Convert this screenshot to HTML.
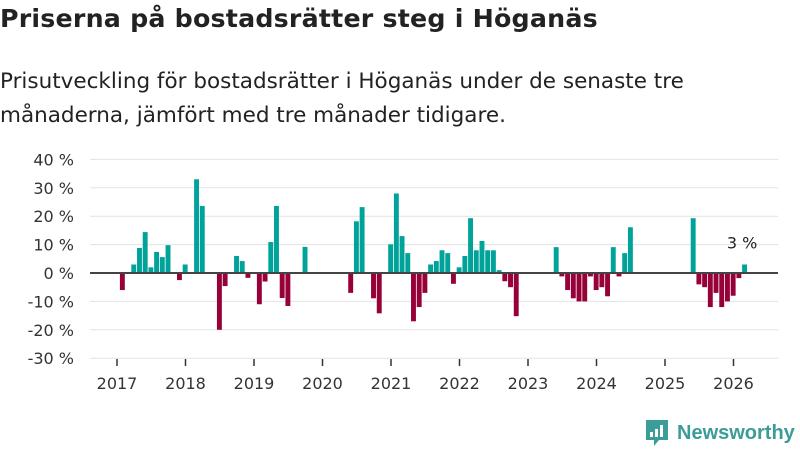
<!DOCTYPE html>
<html><head><meta charset="utf-8"><style>
body{margin:0;width:800px;height:450px;background:#fff;overflow:hidden;font-family:"Liberation Sans","DejaVu Sans",sans-serif;}
#t{position:absolute;left:0;top:4px;font-size:25.3px;font-weight:bold;color:#222;margin:0;font-family:"DejaVu Sans",sans-serif;letter-spacing:0.2px}
#s{position:absolute;left:0;top:65px;line-height:34px;color:#222;margin:0;font-family:"DejaVu Sans",sans-serif;font-size:21.5px}
svg{position:absolute;left:0;top:0}
</style></head><body>
<h1 id="t">Priserna på bostadsrätter steg i Höganäs</h1>
<p id="s">Prisutveckling för bostadsrätter i Höganäs under de senaste tre<br>månaderna, jämfört med tre månader tidigare.</p>
<svg id="c" width="800" height="450"></svg>
<script>
const months=[0,2,3,4,5,6,7,8,10,11,13,14,17,18,20,21,22,24,25,26,27,28,29,32,40,41,42,44,45,47,48,49,50,51,52,53,54,55,56,57,58,59,60,61,62,63,64,65,66,67,68,69,76,77,78,79,80,81,82,83,84,85,86,87,88,89,100,101,102,103,104,105,106,107,108,109];
const values=[-6,3,8.8,14.4,2,7.4,5.6,9.8,-2.5,3,33,23.6,-20,-4.6,6,4.2,-1.7,-11,-3,10.9,23.6,-8.8,-11.6,9.2,-7,18.2,23.2,-8.9,-14.2,10.1,28,13,7,-17,-12,-7,3,4.2,8,7,-3.8,2,6,19.3,8,11.3,8,8,1,-2.9,-5,-15.2,9.1,-1.2,-6,-8.9,-10,-10,-1.2,-6,-5,-8.2,9.1,-1.2,7,16.1,19.3,-4,-5,-12,-7,-12,-10,-8,-1.8,3];
const yTicks=[40,30,20,10,0,-10,-20,-30];
const years=[2017,2018,2019,2020,2021,2022,2023,2024,2025,2026];
const NS="http://www.w3.org/2000/svg",svg=document.getElementById('c');
const x0=117,step=68.5/12,L=90,R=778;
const y=v=>273-v*2.84;
const xm=m=>x0+m*step;
function mk(tag,a,txt){const e=document.createElementNS(NS,tag);for(const k in a)e.setAttribute(k,a[k]);if(txt!=null)e.textContent=txt;svg.appendChild(e);return e;}
yTicks.forEach(v=>{
 const g=mk('line',{x1:L,x2:R,y1:y(v),y2:y(v),stroke:'#e3e3e3','stroke-width':1});
 
 
 const t=mk('text',{x:74,y:y(v)+6,'text-anchor':'end','font-size':16,fill:'#333','font-family':'DejaVu Sans,sans-serif'},v+' %');
 
 
});
years.forEach((yr,i)=>{
 const xx=xm(i*12);
 const tk=mk('line',{x1:xx,x2:xx,y1:359,y2:366,stroke:'#333','stroke-width':1.5});
 
 
 const t=mk('text',{x:xx,y:389,'text-anchor':'middle','font-size':16,fill:'#333','font-family':'DejaVu Sans,sans-serif'},yr);
 
 
});
months.forEach((m,i)=>{
 const v=values[i],c=xm(m+0.5)+2.5,w=step-0.8;
 const b=mk('rect',{x:c-w/2,width:w,y:Math.min(y(v),y(0)),height:Math.abs(y(v)-y(0)),fill:v>=0?'#00a39a':'#970038'});
 
 
});
const z=mk('line',{x1:L,x2:R,y1:y(0),y2:y(0),stroke:'#444','stroke-width':2});


const li=months.length-1;
const lab=mk('text',{x:xm(months[li]+0.5),y:y(values[li])-16,'text-anchor':'middle','font-size':16,fill:'#222','font-family':'DejaVu Sans,sans-serif'},Math.round(values[li])+' %');


</script>
<div style="position:absolute;left:645px;top:419px;display:flex;align-items:center;">
<svg width="24" height="28" viewBox="0 0 24 28" style="position:static"><path d="M1 1h22v20H14l-5 6v-6H1z" fill="#3c9c97"/><rect x="5" y="13" width="3" height="5" fill="#fff"/><rect x="10" y="10" width="3" height="8" fill="#fff"/><rect x="15" y="6" width="3" height="12" fill="#fff"/></svg>
<span style="color:#3c9c97;font-size:20px;margin-left:8px;font-family:'Liberation Sans',sans-serif;font-weight:bold">Newsworthy</span></div>
</body></html>
